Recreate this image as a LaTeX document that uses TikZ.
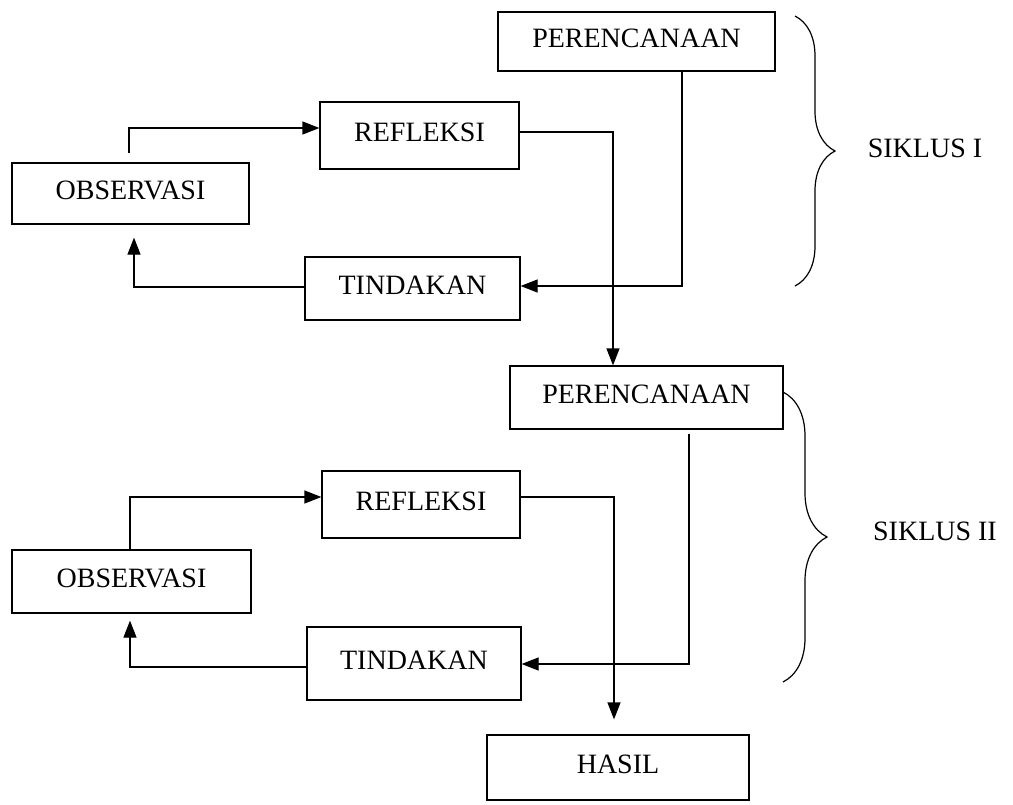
\documentclass[tikz,border=0pt]{standalone}
\usepackage{fontspec}
\setmainfont{Liberation Serif}
\usetikzlibrary{arrows.meta,calc,decorations.pathreplacing}
\begin{document}
\begin{tikzpicture}[x=0.5pt,y=-0.5pt,
  box/.style={draw, line width=0.6pt, inner sep=0pt, text depth=3.5pt, font=\fontsize{14}{16}\selectfont},
  arr/.style={draw, line width=0.6pt, -{Triangle[length=8.5pt,width=6.5pt]}},
  brc/.style={draw, decorate, decoration={brace, amplitude=#1}, line width=0.6pt},
  lbl/.style={font=\fontsize{14}{16}\selectfont}]
\useasboundingbox (0,0) rectangle (1013,804);
\fill[white] (0,0) rectangle (1013,804);

% cycle I
\node[box, minimum width=138.5pt, minimum height=29.5pt] (per1) at (636.5,41.5) {PERENCANAAN};
\node[box, minimum width=99.5pt, minimum height=33.5pt] (ref1) at (419.5,135.5) {REFLEKSI};
\node[box, minimum width=118.5pt, minimum height=30.5pt] (obs1) at (130.5,193.5) {OBSERVASI};
\node[box, minimum width=107.5pt, minimum height=31.5pt] (tin1) at (412.5,288.5) {TINDAKAN};

% cycle II
\node[box, minimum width=136.5pt, minimum height=31.5pt] (per2) at (646.5,397.5) {PERENCANAAN};
\node[box, minimum width=99pt, minimum height=33.5pt] (ref2) at (421,504.5) {REFLEKSI};
\node[box, minimum width=119.5pt, minimum height=31.5pt] (obs2) at (131.5,581.5) {OBSERVASI};
\node[box, minimum width=107pt, minimum height=36.5pt] (tin2) at (414,663.5) {TINDAKAN};
\node[box, minimum width=131pt, minimum height=32.5pt] (hasil) at (618,767.5) {HASIL};

% connectors cycle I
\draw[arr] ($(obs1.north)+(-1.5,-9)$) |- ($(ref1.west)+(0,-7.5)$);
\draw[arr, shorten >=6.5pt] ($(tin1.west)+(0,-1.5)$) -| ($(obs1.south)+(3.5,0)$);
\draw[arr] ($(per1.south)+(45.5,0)$) |- ($(tin1.east)+(0,-2.5)$);
\draw[arr] ($(ref1.east)+(0,-3.5)$) -| ($(per2.north)+(-33.5,0)$);

% connectors cycle II
\draw[arr] ($(obs2.north)+(-1.5,0)$) |- ($(ref2.west)+(0,-7.5)$);
\draw[arr, shorten >=3.5pt] ($(tin2.west)+(0,3.5)$) -| ($(obs2.south)+(-1.5,0)$);
\draw[arr] ($(per2.south)+(42.5,4)$) |- ($(tin2.east)+(0,0.5)$);
\draw[arr] ($(ref2.east)+(0,-7.5)$) -| ($(hasil.north)+(-4,-15)$);

% braces
\coordinate (b1a) at (795,16);
\coordinate (b1b) at (795,286);
\draw[brc=20pt] (b1a) -- (b1b);
\node[lbl] (s1) at (925,148) {SIKLUS I};

\coordinate (b2a) at (783,392);
\coordinate (b2b) at (783,682);
\draw[brc=22pt] (b2a) -- (b2b);
\node[lbl] (s2) at (935,531) {SIKLUS II};
\end{tikzpicture}
\end{document}
